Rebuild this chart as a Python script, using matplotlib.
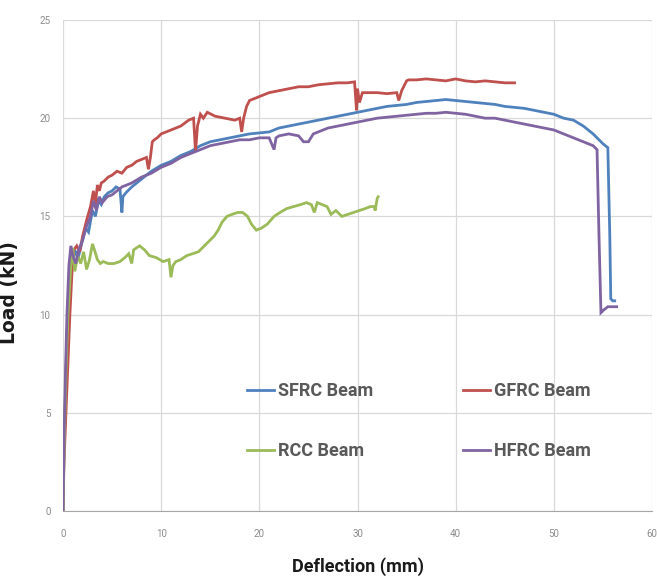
import matplotlib
matplotlib.use("Agg")
import matplotlib.pyplot as plt

# ---------------- data ----------------
sfrc_x = [0, 0.1, 0.25, 0.4, 0.6, 0.8, 1.0, 1.3, 1.6, 2.0, 2.3, 2.6, 3.0, 3.3, 3.6, 3.9, 4.2, 4.6, 5.0, 5.4,
          5.8, 6.0, 6.1, 6.4, 7, 8, 9, 10, 11, 12, 13, 14, 15, 16, 17, 18, 19, 20, 21, 22, 23, 24, 25, 26,
          27, 28, 29, 30, 31, 32, 33, 34, 35, 36, 37, 38, 39, 40, 41, 42, 43, 44, 45, 46, 47, 48, 49, 50,
          51, 52, 53, 54, 55, 55.5, 55.7, 55.8, 56.0, 56.2]
sfrc_y = [0, 3, 6, 9, 11, 12.4, 12.8, 13.2, 13.0, 13.8, 14.4, 14.2, 15.3, 15.0, 15.8, 15.6, 16.0, 16.2, 16.3, 16.5,
          16.4, 15.2, 16.0, 16.2, 16.5, 16.9, 17.3, 17.6, 17.8, 18.1, 18.3, 18.6, 18.8, 18.9, 19.0, 19.1, 19.2, 19.25,
          19.3, 19.5, 19.6, 19.7, 19.8, 19.9, 20.0, 20.1, 20.2, 20.3, 20.4, 20.5, 20.6, 20.65, 20.7, 20.8, 20.85, 20.9,
          20.95, 20.9, 20.85, 20.8, 20.75, 20.7, 20.6, 20.55, 20.5, 20.4, 20.3, 20.2, 20.0, 19.9, 19.6, 19.2, 18.7,
          18.5, 14.0, 10.8, 10.7, 10.7]

gfrc_x = [0, 0.1, 0.3, 0.5, 0.7, 0.9, 1.1, 1.4, 1.7, 2.0, 2.4, 2.8, 3.1, 3.3, 3.5, 3.7, 3.9, 4.2, 4.6, 5,
          5.5, 6, 6.5, 7, 7.5, 8, 8.5, 8.7, 8.9, 9.1, 9.3, 9.6, 10, 11, 12, 12.8, 13.3, 13.5, 13.7, 14.0,
          14.3, 14.7, 15.5, 16.5, 17.5, 18.0, 18.2, 18.4, 18.7, 19.0, 20, 21, 22, 23, 24, 25, 26, 27, 28, 29,
          29.7, 29.9, 30.0, 30.2, 30.5, 31, 32, 33, 34, 34.2, 34.5, 35.0, 35.2, 36, 37, 38, 39, 40, 41, 42,
          43, 44, 45, 46]
gfrc_y = [0, 2.5, 5, 7.5, 10, 12, 13.3, 13.5, 13.2, 14, 14.8, 15.5, 16.3, 15.6, 16.6, 16.3, 16.7, 16.8, 17.0, 17.1,
          17.3, 17.2, 17.5, 17.6, 17.8, 17.9, 18.0, 17.4, 18.0, 18.8, 18.9, 19.0, 19.2, 19.4, 19.6, 19.9, 20.0, 18.3,
          19.6, 20.2, 20.0, 20.3, 20.1, 20.0, 19.9, 20.0, 19.3, 20.0, 20.6, 20.9, 21.1, 21.3, 21.4, 21.5, 21.6, 21.6,
          21.7, 21.75, 21.8, 21.8, 21.85, 20.4, 21.5, 20.8, 21.3, 21.3, 21.3, 21.25, 21.3, 20.9, 21.4, 21.9, 21.95,
          21.95, 22.0, 21.95, 21.9, 22.0, 21.9, 21.85, 21.9, 21.85, 21.8, 21.8]

rcc_x = [0, 0.1, 0.3, 0.5, 0.8, 1.0, 1.2, 1.5, 1.8, 2.1, 2.4, 2.7, 3.0, 3.2, 3.5, 3.8, 4.1, 4.6, 5.2, 5.8,
         6.3, 6.7, 7.0, 7.2, 7.5, 7.8, 8.3, 8.8, 9.5, 10.2, 10.8, 11.0, 11.2, 11.5, 12.0, 12.6, 13.2, 13.8, 14.4,
         15.0, 15.4, 15.8, 16.2, 16.7, 17.2, 17.8, 18.3, 18.8, 19.2, 19.7, 20.2, 20.8, 21.5, 22.1, 22.8, 23.5,
         24.2, 24.8, 25.3, 25.6, 25.9, 26.4, 26.9, 27.3, 27.8, 28.4, 29.0, 29.6, 30.2, 30.8, 31.3, 31.7, 31.8,
         32.0, 32.1]
rcc_y = [0, 3, 7, 10, 12.5, 13.4, 12.2, 13.0, 12.6, 13.2, 12.3, 12.8, 13.6, 13.3, 12.8, 12.6, 12.7, 12.6, 12.6, 12.7,
         12.9, 13.1, 12.6, 13.3, 13.4, 13.5, 13.3, 13.0, 12.9, 12.7, 12.8, 11.9, 12.5, 12.7, 12.8, 13.0, 13.1, 13.2,
         13.5, 13.8, 14.0, 14.3, 14.7, 15.0, 15.1, 15.2, 15.2, 15.0, 14.6, 14.3, 14.4, 14.6, 15.0, 15.2, 15.4, 15.5,
         15.6, 15.7, 15.6, 15.2, 15.7, 15.6, 15.5, 15.1, 15.3, 15.0, 15.1, 15.2, 15.3, 15.4, 15.5, 15.5, 15.3,
         15.9, 16.0]

hfrc_x = [0, 0.1, 0.25, 0.4, 0.6, 0.8, 1.0, 1.3, 1.6, 2.0, 2.4, 2.8, 3.1, 3.4, 3.7, 4.0, 4.5, 5, 5.5, 6,
          7, 8, 9, 10, 11, 12, 13, 14, 15, 16, 17, 18, 19, 20, 21, 21.5, 21.7, 22, 23, 24, 24.5, 25, 25.5,
          26, 27, 28, 29, 30, 31, 32, 33, 34, 35, 36, 37, 38, 39, 40, 41, 42, 43, 44, 45, 46, 47, 48, 49,
          50, 51, 52, 53, 54, 54.4, 54.6, 54.8, 55.0, 55.5, 56.0, 56.4]
hfrc_y = [0, 3.5, 7, 10, 12.5, 13.5, 13.0, 12.6, 13.3, 13.8, 14.5, 15.0, 15.8, 15.3, 16.0, 15.7, 16.0, 16.1, 16.3, 16.5,
          16.7, 17.0, 17.2, 17.5, 17.7, 18.0, 18.2, 18.4, 18.6, 18.7, 18.8, 18.9, 18.9, 19.0, 19.0, 18.4, 19.0, 19.1,
          19.2, 19.1, 18.8, 18.8, 19.2, 19.3, 19.5, 19.6, 19.7, 19.8, 19.9, 20.0, 20.05, 20.1, 20.15, 20.2, 20.25,
          20.25, 20.3, 20.25, 20.2, 20.1, 20.0, 20.0, 19.9, 19.8, 19.7, 19.6, 19.5, 19.4, 19.2, 19.0, 18.8, 18.6,
          18.4, 14.0, 10.1, 10.2, 10.4, 10.4, 10.4]

labels = ["SFRC Beam", "GFRC Beam", "RCC Beam", "HFRC Beam"]
colors = ["#4F81BD", "#C0504D", "#9BBB59", "#8064A2"]
x_ticks = [0, 10, 20, 30, 40, 50, 60]
y_ticks = [0, 5, 10, 15, 20, 25]

# ---------------- figure ----------------
fig = plt.figure(figsize=(6.57, 5.81), dpi=100)
ax = fig.add_axes([0.0959, 0.1205, 0.8965, 0.8451])

series = [(sfrc_x, sfrc_y), (gfrc_x, gfrc_y), (rcc_x, rcc_y), (hfrc_x, hfrc_y)]
lines = []
for (xs, ys), lab, c in zip(series, labels, colors):
    ln, = ax.plot(xs, ys, color=c, lw=2.0, label=lab, solid_joinstyle="miter")
    lines.append(ln)

ax.set_xlim(0, 60)
ax.set_ylim(0, 25)
ax.set_xticks(x_ticks)
ax.set_yticks(y_ticks)
ax.grid(True, color="#D9D9D9", lw=0.9)
ax.set_axisbelow(True)
for s in ["top", "right", "left"]:
    ax.spines[s].set_visible(False)
ax.spines["bottom"].set_color("#A6A6A6")
ax.tick_params(length=0, labelsize=7, labelcolor="#8c8c8c")
ax.tick_params(axis="x", pad=13)
ax.tick_params(axis="y", pad=9)
for t in ax.get_xticklabels() + ax.get_yticklabels():
    t.set_family(["Roboto", "DejaVu Sans"])

ax.set_xlabel("Deflection (mm)", fontsize=13, fontweight="bold",
              family=["Roboto", "DejaVu Sans"], color="#1a1a1a", labelpad=13)
ax.set_ylabel("Load (kN)", fontsize=13.5, fontweight="bold", family=["DejaVu Sans"],
              color="#1a1a1a")
ax.yaxis.set_label_coords(-0.075, 0.445)

order = [0, 2, 1, 3]
leg = ax.legend([lines[i] for i in order], [labels[i] for i in order], ncol=2,
                frameon=False, loc="upper left", bbox_to_anchor=(0.285, 0.296),
                handlelength=1.5, handletextpad=0.2, labelspacing=2.35, columnspacing=5.0,
                prop={"family": ["Roboto", "DejaVu Sans"], "weight": "bold", "size": 13})
for t in leg.get_texts():
    t.set_color("#595959")
for h in leg.legend_handles:
    h.set_linewidth(2.0)

fig.savefig("out.png", dpi=100)
